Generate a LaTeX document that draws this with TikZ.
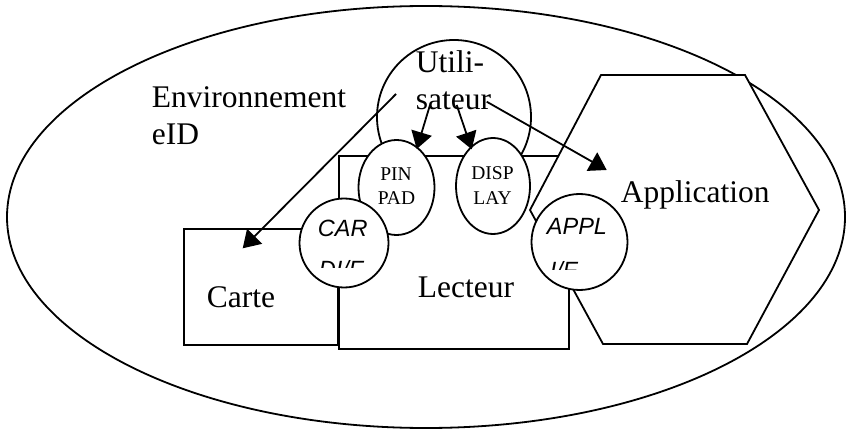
\documentclass[tikz,border=0pt]{standalone}
\usepackage{fontspec}
\setmainfont{Liberation Serif}
\newfontfamily\ifacefont{Liberation Sans}
\usetikzlibrary{shapes.geometric,arrows.meta}

\begin{document}
\begin{tikzpicture}[x=1pt,y=-1pt,line width=1.8pt,
  blob/.style={draw, fill=white, inner sep=0pt, outer sep=0pt},
  bigtext/.style={font=\fontsize{31.5}{37}\selectfont, inner sep=0pt, anchor=base west},
  smalltext/.style={font=\fontsize{19.5}{24}\selectfont, inner sep=0pt, anchor=base},
  iftext/.style={font=\ifacefont\itshape\fontsize{23.5}{28}\selectfont, inner sep=0pt, anchor=base west},
  flow/.style={-{Triangle[length=17pt,width=21pt]}}]
\useasboundingbox (0,0) rectangle (848,430);

% the eID environment
\node[blob, ellipse, minimum width=838pt, minimum height=422pt] (env) at (426,217) {};

% user
\node[blob, circle, minimum size=154pt] (user) at (454,117) {};

% card and reader
\node[blob, rectangle, minimum width=154pt, minimum height=116pt] (carte) at (261,287) {};
\node[blob, rectangle, minimum width=230pt, minimum height=193pt] (lecteur) at (454,252.5) {};

% application (hexagon)
\path[blob] (601,75) -- (745,75) -- (819,210) -- (747,344) -- (603,344) -- (530,210) -- cycle;
\coordinate (app) at (674,210);

% reader parts
\node[blob, ellipse, minimum width=76pt, minimum height=95pt] (pinpad) at (396.5,187.5) {};
\node[blob, ellipse, minimum width=74pt, minimum height=96pt] (display) at (493,186) {};
\node[blob, circle, minimum size=89pt] (cardif) at (344,243) {};
\node[blob, circle, minimum size=96pt] (applif) at (579.5,242) {};

% arrows from the user
\coordinate (u1) at (430,105);
\coordinate (u2) at (456.7,105);
\coordinate (u3) at (486.7,101.7);
\coordinate (u4) at (396,94);
\coordinate (pinin) at (416.7,149);
\coordinate (dispin) at (471.7,149.3);
\coordinate (appin) at (606.7,170);
\coordinate (cartein) at (242.7,248.3);
\draw[flow] (u1) -- (pinin);
\draw[flow] (u2) -- (dispin);
\draw[flow] (u3) -- (appin);
\draw[flow] (u4) -- (cartein);

% labels
\node[bigtext] (envlabel1) at (151,108) {Environnement};
\node[bigtext] (envlabel2) at (151,145) {eID};
\node[bigtext] (userlabel1) at (415,73) {Utili-};
\node[bigtext] (userlabel2) at (415,110) {sateur};
\node[bigtext] (applabel) at (620,203) {Application};
\node[bigtext] (cartelabel) at (206,307) {Carte};
\node[bigtext] (lecteurlabel) at (417,298) {Lecteur};
\node[smalltext] (pinlabel1) at (396,181) {PIN};
\node[smalltext] (pinlabel2) at (396.5,205) {PAD};
\node[smalltext] (displabel1) at (492.5,180) {DISP};
\node[smalltext] (displabel2) at (492.5,205) {LAY};
\node[iftext] (cardiflabel) at (317,237) {CAR};
\node[iftext] (appliflabel) at (546,235) {APPL};
\begin{scope}
  \clip (290,240) rectangle (400,267);
  \node[iftext] (cardiflabel2) at (318,277) {DI/F};
\end{scope}
\begin{scope}
  \clip (530,240) rectangle (630,269);
  \node[iftext] (appliflabel2) at (549,279) {I/F};
\end{scope}
\end{tikzpicture}
\end{document}
